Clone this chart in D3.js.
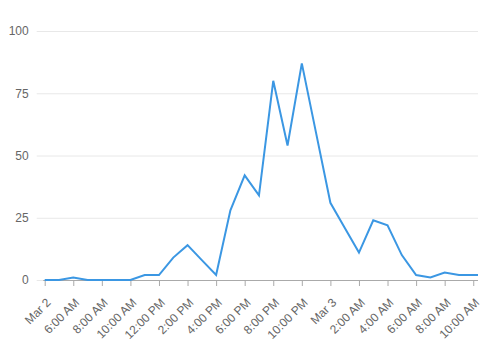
<!DOCTYPE html>
<html>
<head>
<meta charset="utf-8">
<script src="https://cdn.jsdelivr.net/npm/d3@7"></script>
<style>
  body { margin: 0; background: #fff; }
  svg text { font-family: "Liberation Sans", Arial, sans-serif; }
</style>
</head>
<body>
<div id="chart"></div>
<script>
// hourly counts, Mar 2 04:00 onwards; last point is a partial hour
const times = [
  '2024-03-02T04:00', '2024-03-02T05:00', '2024-03-02T06:00', '2024-03-02T07:00',
  '2024-03-02T08:00', '2024-03-02T09:00', '2024-03-02T10:00', '2024-03-02T11:00',
  '2024-03-02T12:00', '2024-03-02T13:00', '2024-03-02T14:00', '2024-03-02T15:00',
  '2024-03-02T16:00', '2024-03-02T17:00', '2024-03-02T18:00', '2024-03-02T19:00',
  '2024-03-02T20:00', '2024-03-02T21:00', '2024-03-02T22:00', '2024-03-02T23:00',
  '2024-03-03T00:00', '2024-03-03T01:00', '2024-03-03T02:00', '2024-03-03T03:00',
  '2024-03-03T04:00', '2024-03-03T05:00', '2024-03-03T06:00', '2024-03-03T07:00',
  '2024-03-03T08:00', '2024-03-03T09:00', '2024-03-03T10:00', '2024-03-03T10:20'
];
const values = [0, 0, 1, 0, 0, 0, 0, 2, 2, 9, 14, 8, 2, 28, 42, 34,
  80, 54, 87, 59, 31, 21, 11, 24, 22, 10, 2, 1, 3, 2, 2, 2];

const tickTimes = [
  '2024-03-02T04:00', '2024-03-02T06:00', '2024-03-02T08:00', '2024-03-02T10:00',
  '2024-03-02T12:00', '2024-03-02T14:00', '2024-03-02T16:00', '2024-03-02T18:00',
  '2024-03-02T20:00', '2024-03-02T22:00', '2024-03-03T00:00', '2024-03-03T02:00',
  '2024-03-03T04:00', '2024-03-03T06:00', '2024-03-03T08:00', '2024-03-03T10:00'
];
const tickLabels = ['Mar 2', '6:00 AM', '8:00 AM', '10:00 AM', '12:00 PM', '2:00 PM',
  '4:00 PM', '6:00 PM', '8:00 PM', '10:00 PM', 'Mar 3', '2:00 AM', '4:00 AM',
  '6:00 AM', '8:00 AM', '10:00 AM'];
const yTicks = [0, 25, 50, 75, 100];

const width = 481, height = 344;
const margin = { top: 31, right: 3, bottom: 64, left: 44.7 };

const parse = d3.timeParse('%Y-%m-%dT%H:%M');
const data = times.map((t, i) => ({ date: parse(t), value: values[i] }));
const ticks = tickTimes.map(parse);

const svg = d3.select('#chart')
  .append('svg')
  .attr('width', width)
  .attr('height', height);

const xScale = d3.scaleTime()
  .domain(d3.extent(data, d => d.date))
  .range([margin.left, width - margin.right]);

const yScale = d3.scaleLinear()
  .domain([0, 100])
  .range([height - margin.bottom, margin.top]);

// grid + y labels
const yAxis = svg.append('g')
  .attr('transform', `translate(${margin.left - 8},0)`)
  .call(d3.axisLeft(yScale)
    .tickValues(yTicks)
    .tickSize(-(width - margin.right - margin.left + 8))
    .tickPadding(8));
yAxis.select('.domain').remove();
yAxis.selectAll('.tick line').attr('stroke', '#e8e8e8');
yAxis.selectAll('.tick text')
  .attr('fill', '#666')
  .style('font-size', '12px');

// x axis
const xAxis = svg.append('g')
  .attr('transform', `translate(0,${height - margin.bottom})`)
  .call(d3.axisBottom(xScale)
    .tickValues(ticks)
    .tickSizeOuter(0)
    .tickSize(6)
    .tickFormat((d, i) => tickLabels[i]));
xAxis.select('.domain')
  .attr('stroke', '#aaa')
  .attr('d', `M${margin.left - 1.5},0.5H${width - margin.right}`);
xAxis.selectAll('.tick line').attr('stroke', '#aaa');
xAxis.selectAll('.tick text')
  .attr('fill', '#666')
  .style('font-size', '12px')
  .attr('text-anchor', 'end')
  .attr('dy', '0.35em')
  .attr('transform', 'translate(-3,14) rotate(-45)');

const line = d3.line()
  .x(d => xScale(d.date))
  .y(d => yScale(d.value));

svg.append('path')
  .datum(data)
  .attr('d', line)
  .attr('fill', 'none')
  .attr('stroke', '#3b97e3')
  .attr('stroke-width', 2)
  .attr('stroke-linejoin', 'miter');
</script>
</body>
</html>
